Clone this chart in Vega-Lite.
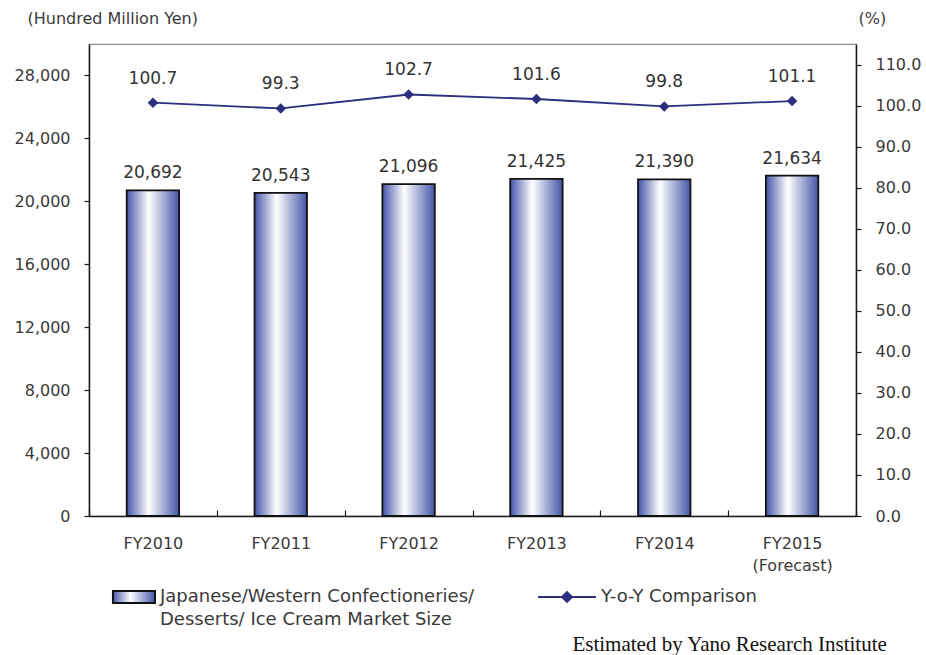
{
  "$schema": "https://vega.github.io/schema/vega-lite/v6.json",
  "width": 767,
  "height": 472,
  "autosize": {"type": "none"},
  "padding": {"left": 89, "top": 44, "right": 70, "bottom": 139},
  "background": "white",
  "config": {
    "view": {"stroke": "#8c8c8c", "strokeWidth": 1.2},
    "font": "DejaVu Sans",
    "axis": {
      "labelFont": "DejaVu Sans",
      "labelFontSize": 16,
      "labelColor": "#3a3a3a",
      "titleFont": "DejaVu Sans",
      "titleFontSize": 16,
      "titleFontWeight": "normal",
      "titleColor": "#3a3a3a",
      "domainColor": "#1a1a1a",
      "domainWidth": 1.5,
      "tickColor": "#1a1a1a",
      "tickWidth": 1.2,
      "grid": false
    },
    "legend": {
      "labelFont": "DejaVu Sans",
      "labelFontSize": 18,
      "labelColor": "#3a3a3a"
    }
  },
  "title": {
    "text": "Estimated by Yano Research Institute",
    "orient": "bottom",
    "anchor": "end",
    "font": "Liberation Serif",
    "fontSize": 21,
    "fontWeight": "normal",
    "color": "#111111",
    "dx": -34,
    "offset": 5
  },
  "data": {
    "values": [
      {"year": "FY2010", "size": 20692, "yoy": 100.7},
      {"year": "FY2011", "size": 20543, "yoy": 99.3},
      {"year": "FY2012", "size": 21096, "yoy": 102.7},
      {"year": "FY2013", "size": 21425, "yoy": 101.6},
      {"year": "FY2014", "size": 21390, "yoy": 99.8},
      {"year": "FY2015", "size": 21634, "yoy": 101.1}
    ]
  },
  "encoding": {
    "x": {
      "field": "year",
      "type": "nominal",
      "sort": null,
      "scale": {"paddingInner": 0, "paddingOuter": 0},
      "axis": {
        "title": null,
        "labelAngle": 0,
        "tickBand": "extent",
        "tickSize": -6,
        "labelPadding": 25,
        "labelBaseline": "top",
        "labelLineHeight": 22,
        "labelExpr": "datum.value == 'FY2015' ? ['FY2015', '(Forecast)'] : datum.value"
      }
    }
  },
  "layer": [
    {
      "encoding": {
        "y": {
          "field": "size",
          "type": "quantitative",
          "scale": {"domain": [0, 30000], "nice": false},
          "axis": {
            "values": [0, 4000, 8000, 12000, 16000, 20000, 24000, 28000],
            "format": ",.0f",
            "tickSize": 5,
            "labelPadding": 14,
            "title": "(Hundred Million Yen)",
            "titleAngle": 0,
            "titleAlign": "left",
            "titleBaseline": "middle",
            "titleX": -62,
            "titleY": -26
          }
        }
      },
      "layer": [
        {
          "mark": {
            "type": "bar",
            "width": {"band": 0.41},
            "strokeWidth": 1.8,
            "fill": {
              "gradient": "linear",
              "x1": 0, "x2": 1, "y1": 0, "y2": 0,
              "stops": [
                {"offset": 0, "color": "#4455a8"},
                {"offset": 0.42, "color": "#ffffff"},
                {"offset": 1, "color": "#4455a8"}
              ]
            }
          },
          "encoding": {
            "stroke": {
              "datum": "Japanese/Western Confectioneries/",
              "type": "nominal",
              "scale": {"domain": ["Japanese/Western Confectioneries/", "Y-o-Y Comparison"], "range": ["#111111", "#2b2f7e"]}
            }
          }
        },
        {
          "mark": {"type": "text", "baseline": "bottom", "dy": -8, "fontSize": 17, "color": "#333333", "font": "DejaVu Sans"},
          "encoding": {
            "text": {"field": "size", "type": "quantitative", "format": ",.0f"}
          }
        }
      ]
    },
    {
      "encoding": {
        "y": {
          "field": "yoy",
          "type": "quantitative",
          "scale": {"domain": [0, 115], "nice": false},
          "axis": {
            "orient": "right",
            "values": [0, 10, 20, 30, 40, 50, 60, 70, 80, 90, 100, 110],
            "format": ".1f",
            "tickSize": 5,
            "labelPadding": 14,
            "title": "(%)",
            "titleAngle": 0,
            "titleAlign": "left",
            "titleBaseline": "middle",
            "titleX": 2,
            "titleY": -26
          }
        }
      },
      "layer": [
        {
          "mark": {"type": "line", "strokeWidth": 1.8},
          "encoding": {
            "stroke": {
              "datum": "Y-o-Y Comparison",
              "type": "nominal",
              "scale": {"domain": ["Japanese/Western Confectioneries/", "Y-o-Y Comparison"], "range": ["#111111", "#2b2f7e"]},
              "legend": {
                "orient": "none",
                "legendX": 7,
                "legendY": 523,
                "direction": "horizontal",
                "title": null,
                "symbolSize": 3364,
                "symbolStrokeWidth": 2,
                "labelOffset": 4,
                "labelLimit": 500,
                "columnPadding": 59,
                "labelExpr": "datum.value == 'Y-o-Y Comparison' ? ['Y-o-Y Comparison', ' '] : ['Japanese/Western Confectioneries/', 'Desserts/ Ice Cream Market Size']",
                "encode": {
                  "symbols": {
                    "update": {
                      "shape": [
                        {"test": "datum.value == 'Y-o-Y Comparison'", "value": "M-1,0L1,0M-0.17,0L0,-0.17L0.17,0L0,0.17Z"},
                        {"value": "M-0.45,-0.21L1,-0.21L1,0.21L-0.45,0.21Z"}
                      ],
                      "fill": [
                        {"test": "datum.value == 'Y-o-Y Comparison'", "value": "#2b2f7e"},
                        {"value": {
                          "gradient": "linear",
                          "x1": 0, "x2": 1, "y1": 0, "y2": 0,
                          "stops": [
                            {"offset": 0, "color": "#4455a8"},
                            {"offset": 0.42, "color": "#ffffff"},
                            {"offset": 1, "color": "#4455a8"}
                          ]
                        }}
                      ],
                      "fillOpacity": {"value": 1},
                      "strokeWidth": {"value": 2}
                    }
                  },
                  "labels": {"update": {"lineHeight": {"value": 23}}}
                }
              }
            }
          }
        },
        {
          "mark": {"type": "point", "shape": "diamond", "filled": true, "size": 110, "color": "#2b2f7e", "opacity": 1}
        },
        {
          "mark": {"type": "text", "baseline": "bottom", "dy": -15, "fontSize": 17, "color": "#333333", "font": "DejaVu Sans"},
          "encoding": {
            "text": {"field": "yoy", "type": "quantitative", "format": ".1f"}
          }
        }
      ]
    }
  ],
  "resolve": {"scale": {"y": "independent"}}
}
